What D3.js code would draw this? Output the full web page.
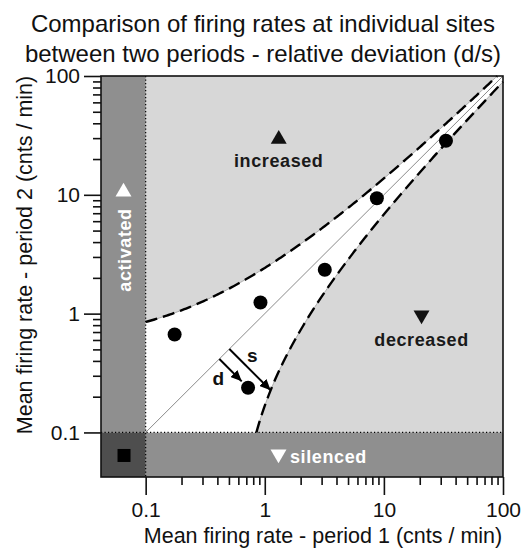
<!DOCTYPE html>
<html>
<head>
<meta charset="utf-8">
<script src="https://cdn.jsdelivr.net/npm/d3@7"></script>
<style>
  html, body { margin: 0; padding: 0; background: #fff; }
  svg { display: block; font-family: "Liberation Sans", Arial, sans-serif; }
</style>
</head>
<body>
<svg id="chart" width="524" height="548"></svg>
<script>
// ---- data ----
const siteRate1 = [0.175, 0.92, 3.19, 0.724, 8.73, 33.2];   // period 1
const siteRate2 = [0.667, 1.24, 2.34, 0.238, 9.35, 28.5];   // period 2
const majorTicks = [0.1, 1, 10, 100];
const tickLabels = ["0.1", "1", "10", "100"];
const minorTicks = [0.2,0.3,0.4,0.5,0.6,0.7,0.8,0.9, 2,3,4,5,6,7,8,9, 20,30,40,50,60,70,80,90];
const titleLines = ["Comparison of firing rates at individual sites", "between two periods - relative deviation (d/s)"];
const xTitle = "Mean firing rate - period 1 (cnts / min)";
const yTitle = "Mean firing rate - period 2 (cnts / min)";
const regionLabels = ["increased", "decreased", "activated", "silenced"];
const thresholdK = 0.77;        // boundary: |y - x| = k * sqrt(x + y)
const detectionLimit = 0.1;
const axisMin = Math.pow(10, -1.375), axisMax = 100;
const exampleSite = 3;          // site used for the d / s illustration

// ---- scales ----
const svg = d3.select("#chart");
const L = 101, R = 503, T = 76, B = 477;
const x = d3.scaleLog().domain([axisMin, axisMax]).range([L, R]);
const y = d3.scaleLog().domain([axisMin, axisMax]).range([B, T]);

const cBand = "#8f8f8f", cCorner = "#4e4e4e", cLight = "#d7d7d7";

// background regions
svg.append("rect").attr("x", x(detectionLimit)).attr("y", T)
  .attr("width", R - x(detectionLimit)).attr("height", y(detectionLimit) - T).attr("fill", cLight);
svg.append("rect").attr("x", L).attr("y", T)
  .attr("width", x(detectionLimit) - L).attr("height", y(detectionLimit) - T).attr("fill", cBand);
svg.append("rect").attr("x", x(detectionLimit)).attr("y", y(detectionLimit))
  .attr("width", R - x(detectionLimit)).attr("height", B - y(detectionLimit)).attr("fill", cBand);
svg.append("rect").attr("x", L).attr("y", y(detectionLimit))
  .attr("width", x(detectionLimit) - L).attr("height", B - y(detectionLimit)).attr("fill", cCorner);

// boundary curves
const k2 = thresholdK * thresholdK;
const upper = v => v + (k2 + Math.sqrt(k2 * k2 + 8 * k2 * v)) / 2;
let lo = detectionLimit, hi = axisMax;
for (let i = 0; i < 60; i++) { const m = (lo + hi) / 2; if (upper(m) < axisMax) lo = m; else hi = m; }
const vEnd = lo;
const nS = 200;
const vs = d3.range(nS + 1).map(i => Math.pow(10, Math.log10(detectionLimit) + (Math.log10(vEnd) - Math.log10(detectionLimit)) * i / nS));
const upperPts = vs.map(v => [v, upper(v)]);
const lowerPts = vs.map(v => [upper(v), v]);

const line = d3.line().x(d => x(d[0])).y(d => y(d[1]));
const poly = [[detectionLimit, detectionLimit]].concat(upperPts, [[axisMax, axisMax]], lowerPts.slice().reverse());
svg.append("path").attr("d", line(poly) + "Z").attr("fill", "#fff");

[upperPts, lowerPts].forEach(pts => {
  svg.append("path").attr("d", line(pts)).attr("fill", "none").attr("stroke", "#999").attr("stroke-width", 0.8);
  svg.append("path").attr("d", line(pts)).attr("fill", "none").attr("stroke", "#000")
    .attr("stroke-width", 2.4).attr("stroke-dasharray", "12,6");
});

// diagonal
svg.append("path").attr("d", line([[detectionLimit, detectionLimit], [axisMax, axisMax]]))
  .attr("fill", "none").attr("stroke", "#8a8a8a").attr("stroke-width", 1);

// dotted detection limit lines
svg.append("line").attr("x1", x(detectionLimit)).attr("x2", x(detectionLimit)).attr("y1", T).attr("y2", B)
  .attr("stroke", "#000").attr("stroke-width", 1.2).attr("stroke-dasharray", "1.2,2.3");
svg.append("line").attr("x1", L).attr("x2", R).attr("y1", y(detectionLimit)).attr("y2", y(detectionLimit))
  .attr("stroke", "#000").attr("stroke-width", 1.2).attr("stroke-dasharray", "1.2,2.3");

// frame
svg.append("rect").attr("x", L).attr("y", T).attr("width", R - L).attr("height", B - T)
  .attr("fill", "none").attr("stroke", "#111").attr("stroke-width", 1.6);

// d / s arrows
const defs = svg.append("defs");
defs.append("marker").attr("id", "arr").attr("markerUnits", "userSpaceOnUse")
  .attr("markerWidth", 11).attr("markerHeight", 10).attr("refX", 11).attr("refY", 5).attr("orient", "auto")
  .append("path").attr("d", "M0,0 L11,5 L0,10 Z").attr("fill", "#000");
const r = 7;
const px = x(siteRate1[exampleSite]), py = y(siteRate2[exampleSite]);
const off = ((px + py) - (x(1) + y(1))) / 2;
const projX = px - off, projY = py - off;
const u = Math.SQRT1_2;
svg.append("line").attr("x1", projX).attr("y1", projY)
  .attr("x2", px - (r + 2) * u).attr("y2", py - (r + 2) * u)
  .attr("stroke", "#000").attr("stroke-width", 2).attr("marker-end", "url(#arr)");
const sX = projX + 10, sY = projY - 10;
let tLo = 0, tHi = 200;
const f = t => { const a = x.invert(sX + t * u), b = y.invert(sY + t * u); return a - b - thresholdK * Math.sqrt(a + b); };
for (let i = 0; i < 60; i++) { const m = (tLo + tHi) / 2; if (f(m) < 0) tLo = m; else tHi = m; }
svg.append("line").attr("x1", sX).attr("y1", sY)
  .attr("x2", sX + tLo * u).attr("y2", sY + tLo * u)
  .attr("stroke", "#000").attr("stroke-width", 2).attr("marker-end", "url(#arr)");
svg.append("text").attr("x", projX - 1).attr("y", projY + 26).attr("text-anchor", "middle")
  .attr("font-size", 19).attr("font-weight", "bold").attr("fill", "#111").text("d");
svg.append("text").attr("x", sX + 23).attr("y", sY + 13).attr("text-anchor", "middle")
  .attr("font-size", 19).attr("font-weight", "bold").attr("fill", "#111").text("s");

// points
svg.append("g").selectAll("circle").data(siteRate1).join("circle")
  .attr("cx", d => x(d)).attr("cy", (d, i) => y(siteRate2[i])).attr("r", r).attr("fill", "#000");

// corner marker
svg.append("rect").attr("x", x(0.0658) - 6.5).attr("y", y(0.064) - 6.5).attr("width", 13).attr("height", 13).attr("fill", "#000");

// region labels
const tri = d3.symbol().type(d3.symbolTriangle).size(110);
function triangle(cx, cy, rot, color) {
  svg.append("path").attr("d", tri()).attr("transform", `translate(${cx},${cy}) rotate(${rot})`).attr("fill", color);
}
const labStyle = s => s.attr("font-size", 18).attr("font-weight", "bold").attr("letter-spacing", 0.6);
triangle(x(1.31), y(30) + 1, 0, "#111");
svg.append("text").attr("x", x(1.31)).attr("y", 167).attr("text-anchor", "middle").attr("fill", "#1a1a1a")
  .call(labStyle).text(regionLabels[0]);
triangle(x(20.7), 315, 180, "#111");
svg.append("text").attr("x", x(20.7)).attr("y", 345.5).attr("text-anchor", "middle").attr("fill", "#1a1a1a")
  .call(labStyle).text(regionLabels[1]);
triangle(123.5, 192, 0, "#fff");
svg.append("text").attr("transform", "translate(131,250) rotate(-90)").attr("text-anchor", "middle").attr("fill", "#fff")
  .call(labStyle).text(regionLabels[2]);
triangle(278.5, 454, 180, "#fff");
svg.append("text").attr("x", 290).attr("y", 462.5).attr("text-anchor", "start").attr("fill", "#fff")
  .call(labStyle).text(regionLabels[3]);

// axes
const fmt = v => tickLabels[majorTicks.indexOf(v)];
const yMinor = d3.axisLeft(y).tickValues(minorTicks).tickSize(8).tickFormat("");
const yMajor = d3.axisLeft(y).tickValues(majorTicks).tickSize(17).tickPadding(4).tickFormat(fmt);
const xMinor = d3.axisBottom(x).tickValues(minorTicks).tickSize(8).tickFormat("");
const xMajor = d3.axisBottom(x).tickValues(majorTicks).tickSize(18).tickPadding(7).tickFormat(fmt);
[[yMinor, `translate(${L},0)`], [yMajor, `translate(${L},0)`], [xMinor, `translate(0,${B})`], [xMajor, `translate(0,${B})`]]
  .forEach(([ax, tr]) => {
    const g = svg.append("g").attr("transform", tr).call(ax);
    g.select(".domain").remove();
    g.selectAll("line").attr("stroke", "#111").attr("stroke-width", 1.6);
    g.selectAll("text").attr("font-size", 21).attr("fill", "#111").attr("font-family", "Liberation Sans, Arial, sans-serif");
  });

// titles
svg.append("text").attr("x", 323).attr("y", 543).attr("text-anchor", "middle").attr("font-size", 21.5).attr("fill", "#111").text(xTitle);
svg.append("text").attr("transform", "translate(32,255) rotate(-90)").attr("text-anchor", "middle").attr("font-size", 21.5).attr("fill", "#111").text(yTitle);
titleLines.forEach((t, i) => {
  svg.append("text").attr("x", 263).attr("y", 31.5 + i * 30).attr("text-anchor", "middle").attr("font-size", 24).attr("fill", "#111").text(t);
});
</script>
</body>
</html>
